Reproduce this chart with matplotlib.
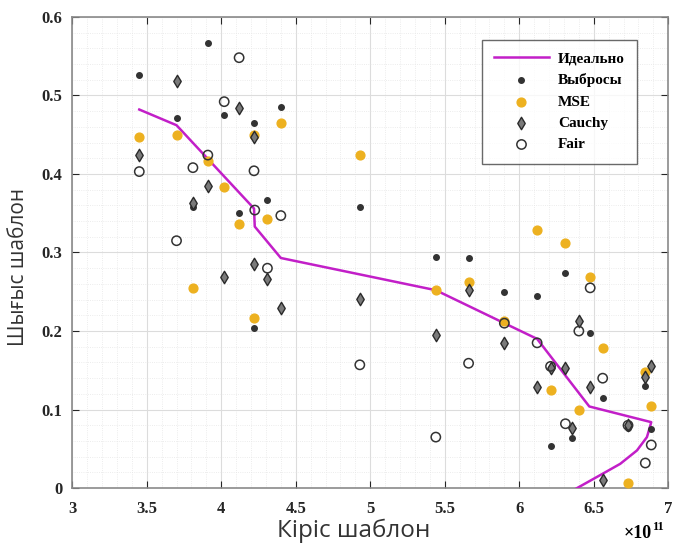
import matplotlib.pyplot as plt
from matplotlib.ticker import AutoMinorLocator

# ideal curve
ideal_x = [3.45, 3.70, 4.22, 4.225, 4.40, 5.44, 5.90, 6.12, 6.47, 6.886,
           6.857, 6.79, 6.678, 6.566, 6.387, 6.30]
ideal_y = [0.482, 0.462, 0.356, 0.333, 0.293, 0.252, 0.210, 0.190, 0.104, 0.084,
           0.065, 0.048, 0.031, 0.019, 0.0, -0.01]

# outliers
out_x = [3.45, 3.70, 3.81, 3.91, 4.02, 4.12, 4.22, 4.22, 4.31, 4.40, 4.93, 5.44,
         5.66, 5.90, 6.12, 6.21, 6.21, 6.31, 6.355, 6.476, 6.56, 6.73, 6.846, 6.886]
out_y = [0.526, 0.471, 0.358, 0.567, 0.475, 0.350, 0.465, 0.204, 0.367, 0.485, 0.358, 0.294,
         0.293, 0.250, 0.245, 0.153, 0.054, 0.274, 0.064, 0.198, 0.115, 0.076, 0.130, 0.075]

# MSE
mse_x = [3.45, 3.70, 3.81, 3.91, 4.02, 4.12, 4.22, 4.22, 4.31, 4.40, 4.93, 5.44,
         5.66, 5.90, 6.12, 6.21, 6.31, 6.40, 6.476, 6.56, 6.73, 6.846, 6.886]
mse_y = [0.447, 0.450, 0.255, 0.417, 0.383, 0.336, 0.450, 0.217, 0.343, 0.465, 0.424, 0.252,
         0.262, 0.213, 0.329, 0.125, 0.312, 0.099, 0.269, 0.178, 0.006, 0.148, 0.104]

# Cauchy
cau_x = [3.45, 3.70, 3.81, 3.91, 4.02, 4.12, 4.22, 4.22, 4.31, 4.40, 4.93, 5.44,
         5.66, 5.90, 6.12, 6.21, 6.31, 6.355, 6.40, 6.476, 6.56, 6.73, 6.846, 6.886]
cau_y = [0.424, 0.518, 0.363, 0.385, 0.269, 0.484, 0.447, 0.285, 0.266, 0.229, 0.241, 0.195,
         0.252, 0.185, 0.129, 0.153, 0.153, 0.076, 0.213, 0.129, 0.010, 0.080, 0.141, 0.155]

# Fair
fair_x = [3.45, 3.70, 3.81, 3.91, 4.02, 4.12, 4.22, 4.225, 4.31, 4.40, 4.93, 5.44,
          5.66, 5.90, 6.12, 6.21, 6.31, 6.40, 6.476, 6.56, 6.73, 6.846, 6.886]
fair_y = [0.403, 0.315, 0.408, 0.424, 0.492, 0.548, 0.404, 0.354, 0.280, 0.347, 0.157, 0.065,
          0.159, 0.210, 0.185, 0.155, 0.082, 0.200, 0.255, 0.140, 0.080, 0.032, 0.055]

xticks = [3, 3.5, 4, 4.5, 5, 5.5, 6, 6.5, 7]
yticks = [0, 0.1, 0.2, 0.3, 0.4, 0.5, 0.6]

tick_font = {'family': 'Liberation Serif', 'weight': 'bold', 'size': 12}

fig = plt.figure(figsize=(6.75, 5.43), dpi=100)
ax = fig.add_axes([0.107, 0.101, 0.883, 0.868])

ax.plot(ideal_x, ideal_y, color='#c21fc8', linewidth=1.8, label='Идеально', zorder=3)
ax.scatter(out_x, out_y, s=16, color='#333333', label='Выбросы', zorder=4)
ax.scatter(mse_x, mse_y, s=40, color='#edb120', label='MSE', zorder=3)
ax.scatter(cau_x, cau_y, s=40, marker='d', facecolor='#7a7a7a', edgecolor='#2a2a2a',
           linewidths=1.0, label='Cauchy', zorder=4)
ax.scatter(fair_x, fair_y, s=45, facecolor='none', edgecolor='#333333',
           linewidths=1.1, label='Fair', zorder=4)

ax.set_xlim(3, 7)
ax.set_ylim(0, 0.6)
ax.xaxis.set_minor_locator(AutoMinorLocator(5))
ax.yaxis.set_minor_locator(AutoMinorLocator(5))
ax.set_xticks(xticks)
ax.set_xticklabels([f'{v:g}' for v in xticks], fontdict=tick_font)
ax.set_yticks(yticks)
ax.set_yticklabels([f'{v:g}' for v in yticks], fontdict=tick_font)

ax.grid(which='major', color='#dcdcdc', linewidth=0.8)
ax.grid(which='minor', color='#e6e6e6', linewidth=0.6, linestyle=':')
ax.set_axisbelow(True)
ax.tick_params(which='major', direction='in', length=5, colors='#262626', width=0.8,
               top=True, right=True)
ax.tick_params(axis='x', which='major', pad=9)
ax.tick_params(axis='y', which='major', pad=7)
ax.tick_params(which='minor', length=0)
for sp in ax.spines.values():
    sp.set_color('#8a8a8a')
    sp.set_linewidth(1.2)

ax.set_xlabel('Кіріс шаблон', fontsize=17.5, family='Open Sans', color='#333333')
ax.xaxis.set_label_coords(0.472, -0.065)
ax.set_ylabel('Шығыс шаблон', fontsize=15, family='Open Sans', color='#333333')
ax.yaxis.set_label_coords(-0.072, 0.47)

# exponent of the x axis
fig.text(652 / 675, 1 - 538 / 543, '×10', ha='right', va='baseline',
         family='Liberation Serif', fontweight='bold', fontsize=13)
fig.text(652 / 675, 1 - 530 / 543, '11', ha='left', va='baseline',
         family='Liberation Serif', fontweight='bold', fontsize=9)

leg = ax.legend(loc='upper right', bbox_to_anchor=(0.948, 0.951), borderaxespad=0,
                frameon=True, fancybox=False,
                prop={'family': 'Liberation Serif', 'weight': 'bold', 'size': 11},
                handlelength=3.6, borderpad=0.8, labelspacing=0.5, handletextpad=0.6)
leg.get_frame().set_edgecolor('#444444')
leg.get_frame().set_linewidth(1.0)

fig.savefig('out.png', dpi=100)
